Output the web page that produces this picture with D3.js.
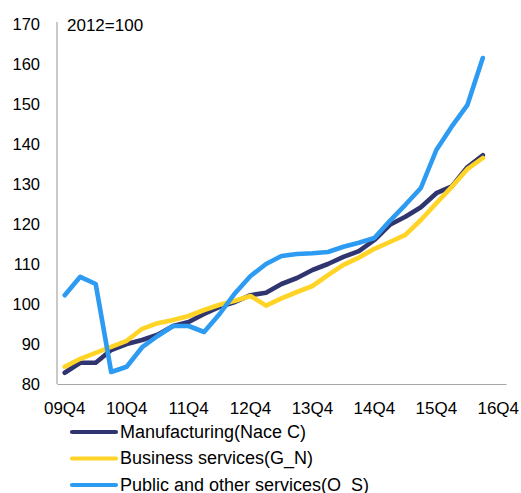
<!DOCTYPE html>
<html>
<head>
<meta charset="utf-8">
<script src="https://cdn.jsdelivr.net/npm/d3@7/dist/d3.min.js"></script>
<style>
html,body{margin:0;padding:0;background:#fff;}
svg{display:block;font-family:"Liberation Sans",Arial,sans-serif;}
</style>
</head>
<body>
<svg id="chart" width="521" height="493"></svg>
<script>
const quarters = ["09Q4","10Q1","10Q2","10Q3","10Q4","11Q1","11Q2","11Q3","11Q4","12Q1","12Q2","12Q3","12Q4","13Q1","13Q2","13Q3","13Q4","14Q1","14Q2","14Q3","14Q4","15Q1","15Q2","15Q3","15Q4","16Q1","16Q2","16Q3","16Q4"];
const tickLabels = ["09Q4","10Q4","11Q4","12Q4","13Q4","14Q4","15Q4","16Q4"];
const yTicks = [80,90,100,110,120,130,140,150,160,170];
const seriesNames = ["Manufacturing(Nace C)","Business services(G_N)","Public and other services(O_S)"];
const manufacturing = [82.8,85.3,85.3,88.5,90,91,92.3,94.5,95.5,97.5,99.3,100.5,102.2,102.8,105,106.5,108.5,110,111.8,113.2,116,119.8,121.8,124.2,127.7,129.4,134.2,137.2];
const business = [84.3,86.3,87.8,89.3,90.8,93.8,95.2,96,97,98.5,99.8,100.8,102,99.6,101.4,103,104.5,107.2,109.8,111.6,113.8,115.5,117.3,121,125.2,129.3,133.7,136.5];
const publicServices = [102.2,106.8,105,83,84.3,89.2,92,94.5,94.5,93,97.5,102.7,107,110,112,112.5,112.7,113,114.3,115.3,116.5,120.8,124.8,129,138.5,144.4,149.7,161.5];
const colors = ["#31356F","#FFD426","#2D9BF2"];

const svg = d3.select("#chart");
const x = d3.scaleBand().domain(quarters).range([57,506]).padding(0);
const y = d3.scaleLinear().domain([80,170]).range([384,24]);

// axes
const yAxis = svg.append("g").attr("transform","translate(57,0)")
  .call(d3.axisLeft(y).tickValues(yTicks).tickSize(0).tickPadding(17).tickFormat(d3.format("d")));
yAxis.select(".domain").attr("stroke","#A6A6A6").attr("stroke-width",1.2).attr("d","M0,22V384");
yAxis.selectAll("text").attr("font-size",16.5).attr("fill","#000").attr("font-family","Liberation Sans, Arial, sans-serif");

const xAxis = svg.append("g").attr("transform","translate(0,384)")
  .call(d3.axisBottom(x).tickValues(tickLabels).tickSize(0).tickPadding(18));
xAxis.select(".domain").attr("stroke","#A6A6A6").attr("stroke-width",1.2);
xAxis.selectAll("text").attr("font-size",17).attr("fill","#000").attr("font-family","Liberation Sans, Arial, sans-serif");

svg.append("text").attr("x",67).attr("y",31).attr("font-size",17).attr("fill","#000").text("2012=100");

const line = d3.line().x((d,i)=>x(quarters[i])+x.bandwidth()/2).y(d=>y(d));
[manufacturing,business,publicServices].forEach((s,k)=>{
  svg.append("path").datum(s).attr("d",line).attr("fill","none")
    .attr("stroke",colors[k]).attr("stroke-width",4.6)
    .attr("stroke-linejoin","round").attr("stroke-linecap","round");
});

// legend
const leg = svg.append("g");
seriesNames.forEach((n,k)=>{
  const yy = 432 + k*26.5;
  leg.append("line").attr("x1",72).attr("x2",116).attr("y1",yy).attr("y2",yy)
    .attr("stroke",colors[k]).attr("stroke-width",4.2).attr("stroke-linecap","round");
  leg.append("text").attr("x",120).attr("y",yy+5.5).attr("font-size",18).attr("fill","#000").text(n);
});
</script>
</body>
</html>
